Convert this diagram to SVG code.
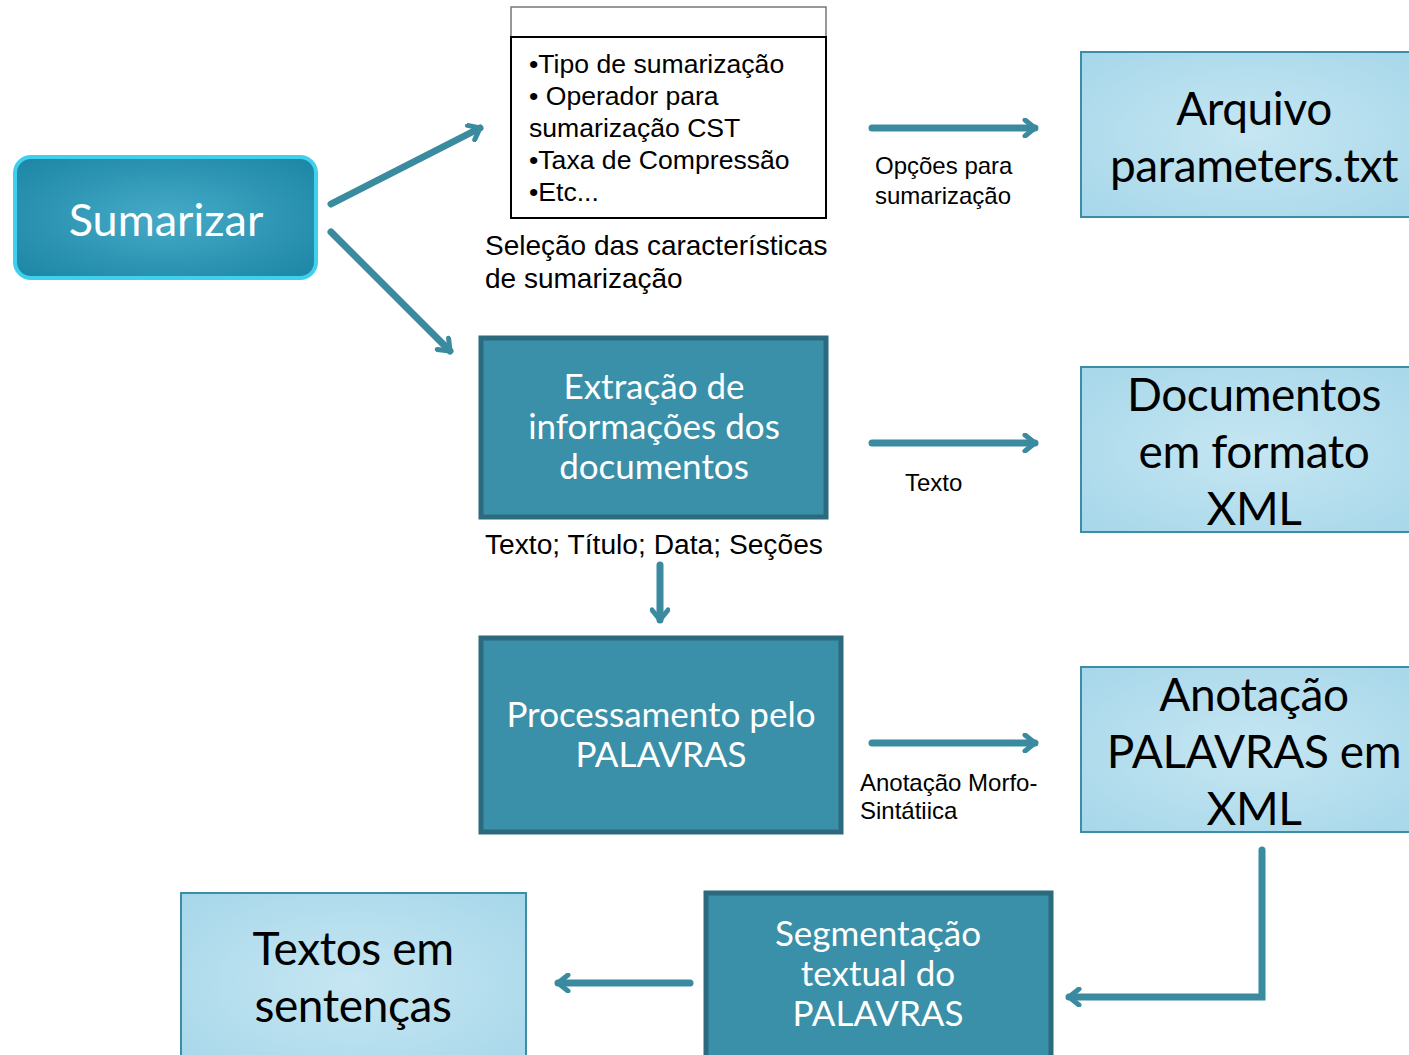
<svg xmlns="http://www.w3.org/2000/svg" width="1409" height="1055" viewBox="0 0 1409 1055">
<defs>
<radialGradient id="lightg" cx="50%" cy="50%" r="70%">
<stop offset="0" stop-color="#c6e6f2"/>
<stop offset="1" stop-color="#a6d7ea"/>
</radialGradient>
<radialGradient id="sumg" cx="50%" cy="50%" r="65%">
<stop offset="0" stop-color="#45aac8"/>
<stop offset="1" stop-color="#1e88a6"/>
</radialGradient>
<marker id="ah" viewBox="0 0 20 20" refX="14" refY="10" markerWidth="20" markerHeight="20" markerUnits="userSpaceOnUse" orient="auto">
<polyline points="4,2 14,10 4,18" fill="none" stroke="#3a8aa0" stroke-width="5" stroke-linecap="round" stroke-linejoin="round"/>
</marker>
<style>
.light{fill:url(#lightg);stroke:#3b8ea6;stroke-width:2}
.dark{fill:#3a90a8;stroke:#2b6b7d;stroke-width:5}
.lt{font-family:Lato,"Open Sans",sans-serif;font-size:46px;letter-spacing:-0.4px;fill:#000;text-anchor:middle}
.dt{font-family:Lato,"Open Sans",sans-serif;font-size:35px;fill:#fff;text-anchor:middle}
.bt{font-family:"Liberation Sans",Arial,sans-serif;fill:#000}
.conn{fill:none;stroke:#3a8aa0;stroke-width:7;stroke-linecap:round;marker-end:url(#ah)}
</style>
</defs>
<rect width="1409" height="1055" fill="#fff"/>

<g id="sumarizar">
<rect x="15" y="157" width="301" height="121" rx="16" fill="url(#sumg)" stroke="#3fd0ee" stroke-width="4"/>
<text x="166" y="236" font-family="Lato,'Open Sans',sans-serif" font-size="45" fill="#fff" text-anchor="middle">Sumarizar</text>
</g>

<g id="selecao">
<rect x="511" y="7" width="315" height="30" fill="#fff" stroke="#777" stroke-width="1.5"/>
<rect x="511" y="37" width="315" height="181" fill="#fff" stroke="#000" stroke-width="2"/>
<g class="bt" font-size="26.6">
<text x="529" y="73">•Tipo de sumarização</text>
<text x="529" y="105">• Operador para</text>
<text x="529" y="137">sumarização CST</text>
<text x="529" y="169">•Taxa de Compressão</text>
<text x="529" y="201">•Etc...</text>
</g>
<g class="bt" font-size="28">
<text x="485" y="255">Seleção das características</text>
<text x="485" y="288">de sumarização</text>
</g>
</g>

<g id="parameters">
<rect x="1081" y="52" width="340" height="165" class="light"/>
<text class="lt" x="1254" y="125">Arquivo</text>
<text class="lt" x="1254" y="182">parameters.txt</text>
</g>

<g id="extracao">
<rect x="481" y="338" width="345" height="179" class="dark"/>
<text class="dt" x="654" y="399">Extração de</text>
<text class="dt" x="654" y="439">informações dos</text>
<text class="dt" x="654" y="479">documentos</text>
<text class="bt" x="485" y="554" font-size="28.2">Texto; Título; Data; Seções</text>
</g>

<g id="documentos">
<rect x="1081" y="367" width="340" height="165" class="light"/>
<text class="lt" x="1254" y="411">Documentos</text>
<text class="lt" x="1254" y="468">em formato</text>
<text class="lt" x="1254" y="525">XML</text>
</g>

<g id="processamento">
<rect x="481" y="638" width="360" height="194" class="dark"/>
<text class="dt" x="661" y="727">Processamento pelo</text>
<text class="dt" x="661" y="767">PALAVRAS</text>
</g>

<g id="anotacao">
<rect x="1081" y="667" width="340" height="165" class="light"/>
<text class="lt" x="1254" y="711">Anotação</text>
<text class="lt" x="1254" y="768">PALAVRAS em</text>
<text class="lt" x="1254" y="825">XML</text>
</g>

<g id="segmentacao">
<rect x="706" y="893" width="345" height="180" class="dark"/>
<text class="dt" x="878" y="946">Segmentação</text>
<text class="dt" x="878" y="986">textual do</text>
<text class="dt" x="878" y="1026">PALAVRAS</text>
</g>

<g id="textos">
<rect x="181" y="893" width="345" height="180" class="light"/>
<text class="lt" x="353" y="965">Textos em</text>
<text class="lt" x="353" y="1022">sentenças</text>
</g>

<g id="connectors">
<line class="conn" x1="331" y1="204" x2="480" y2="128"/>
<line class="conn" x1="331" y1="232" x2="450" y2="351"/>
<line class="conn" x1="872" y1="128" x2="1035" y2="128"/>
<line class="conn" x1="872" y1="443" x2="1035" y2="443"/>
<line class="conn" x1="872" y1="743" x2="1035" y2="743"/>
<line class="conn" x1="660" y1="565" x2="660" y2="620"/>
<polyline class="conn" points="1262,850 1262,997 1069,997"/>
<line class="conn" x1="690" y1="983" x2="558" y2="983"/>
<g class="bt" font-size="24">
<text x="875" y="174">Opções para</text>
<text x="875" y="204">sumarização</text>
<text x="905" y="491">Texto</text>
<text x="860" y="791">Anotação Morfo-</text>
<text x="860" y="819">Sintátiica</text>
</g>
</g>
</svg>
